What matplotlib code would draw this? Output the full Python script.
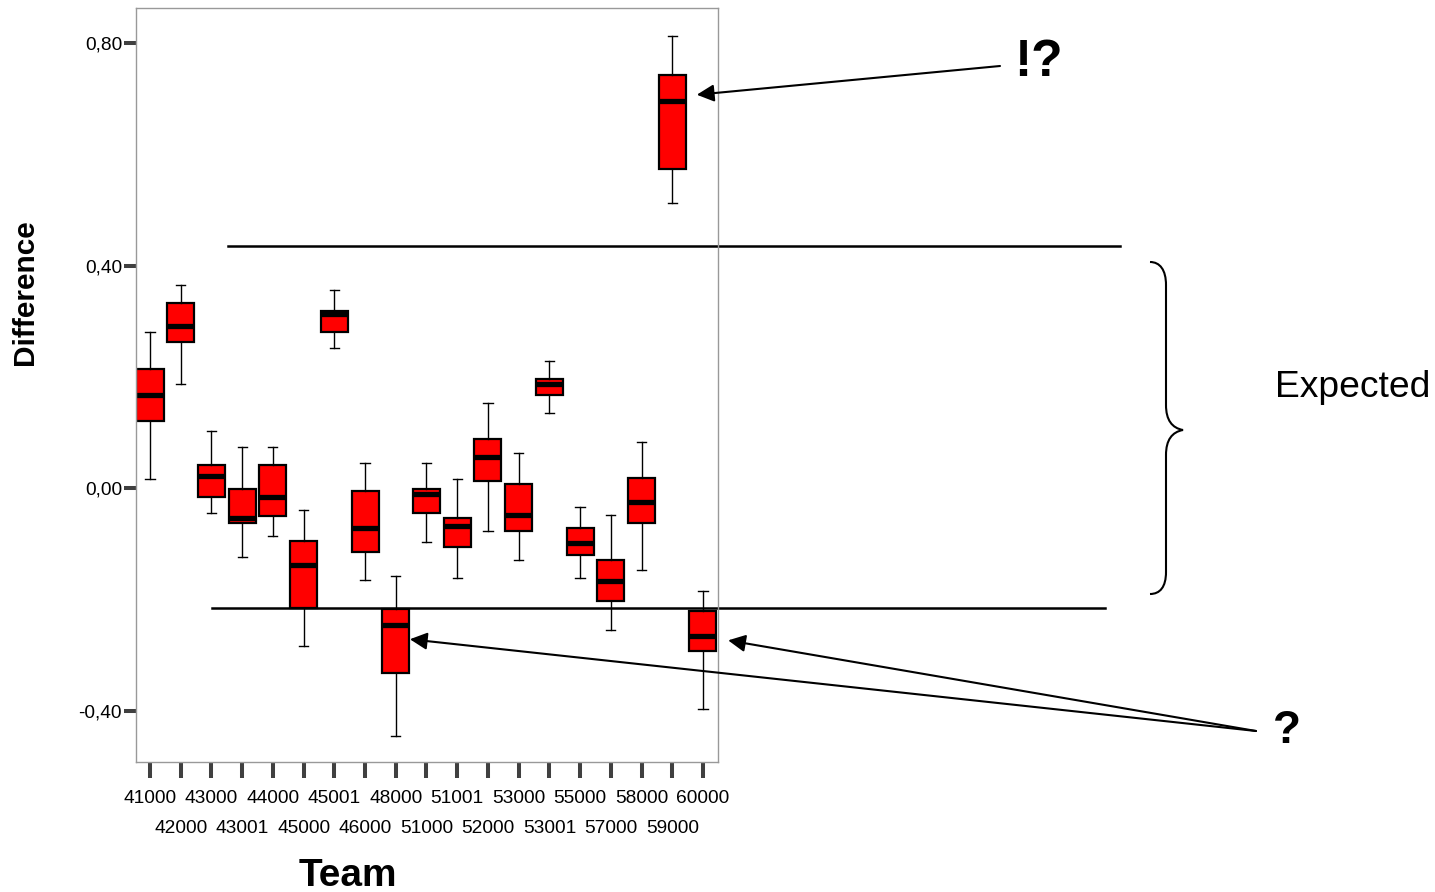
import matplotlib.pyplot as plt
from matplotlib.path import Path
from matplotlib.patches import PathPatch

# team codes on the x axis
teams = ["41000", "42000", "43000", "43001", "44000", "45000", "45001",
         "46000", "48000", "51000", "51001", "52000", "53000", "53001",
         "55000", "57000", "58000", "59000", "60000"]

# box plot statistics
whis_lo = [0.017, 0.187, -0.044, -0.123, -0.086, -0.283, 0.252, -0.165, -0.444, -0.096,
           -0.161, -0.077, -0.129, 0.135, -0.161, -0.255, -0.147, 0.512, -0.396]
q1 = [0.121, 0.263, -0.016, -0.063, -0.049, -0.215, 0.281, -0.115, -0.331, -0.044,
      -0.105, 0.013, -0.077, 0.168, -0.119, -0.203, -0.062, 0.573, -0.293]
median = [0.167, 0.291, 0.022, -0.054, -0.016, -0.138, 0.314, -0.071, -0.245, -0.011,
          -0.068, 0.056, -0.048, 0.187, -0.099, -0.166, -0.024, 0.695, -0.265]
q3 = [0.215, 0.333, 0.042, -0.001, 0.042, -0.095, 0.319, -0.005, -0.217, -0.001,
      -0.053, 0.088, 0.008, 0.197, -0.072, -0.129, 0.018, 0.743, -0.221]
whis_hi = [0.281, 0.365, 0.103, 0.074, 0.074, -0.039, 0.356, 0.046, -0.157, 0.045,
           0.017, 0.154, 0.064, 0.229, -0.034, -0.048, 0.084, 0.813, -0.185]

y_ticks = [-0.4, 0.0, 0.4, 0.8]
y_ticklabels = ["-0,40", "0,00", "0,40", "0,80"]

# limits of the "expected" band
upper_limit = 0.436
lower_limit = -0.215

W, H = 1435, 892


def fig_xy(x, y):
    # pixel position (y measured from the top) -> figure fraction
    return x / W, 1 - y / H


plt.rcParams["font.family"] = ["Liberation Sans", "DejaVu Sans"]

fig = plt.figure(figsize=(W / 100, H / 100), dpi=100)
ax = fig.add_axes([136 / W, 1 - 762 / H, 582 / W, 754 / H])

stats = []
for i in range(len(teams)):
    stats.append({"label": teams[i], "whislo": whis_lo[i], "q1": q1[i], "med": median[i],
                  "q3": q3[i], "whishi": whis_hi[i], "fliers": []})

ax.bxp(stats, positions=range(len(teams)), widths=0.88, patch_artist=True,
       showfliers=False, capwidths=0.3,
       boxprops=dict(facecolor="#ff0000", edgecolor="black", linewidth=1.6),
       medianprops=dict(color="black", linewidth=3.8, solid_capstyle="butt"),
       whiskerprops=dict(color="black", linewidth=1),
       capprops=dict(color="black", linewidth=1))

ax.set_xlim(-0.456, 18.49)
ax.set_ylim(-0.4915, 0.8628)

ax.set_yticks(y_ticks)
ax.set_yticklabels(y_ticklabels)
ax.set_xticks(range(len(teams)))
ax.set_xticklabels(teams)

ax.tick_params(axis="y", length=8.6, width=2.9, color="#404040", pad=1.4, labelsize=13.8)
ax.tick_params(axis="x", length=11.2, width=2.9, color="#404040", pad=9, labelsize=13.8)

# alternate labels on two rows
for i, tick in enumerate(ax.xaxis.get_major_ticks()):
    if i % 2 == 1:
        tick.set_pad(9 + 21.6)

for s in ax.spines.values():
    s.set_color("#999999")
    s.set_linewidth(1)

# band lines, running past the axes
ax.plot([2.54, 31.57], [upper_limit, upper_limit], color="black", lw=1.8, clip_on=False)
ax.plot([2.02, 31.09], [lower_limit, lower_limit], color="black", lw=1.8, clip_on=False)

# axis titles
fig.text(*fig_xy(25, 292), "Difference", rotation=90, fontsize=21.5, fontweight="bold",
         ha="center", va="center")
fig.text(*fig_xy(348, 876), "Team", fontsize=28, fontweight="bold", ha="center", va="center")

# annotations
arrow = dict(arrowstyle="-|>", color="black", lw=1.5, mutation_scale=26,
             shrinkA=0, shrinkB=0)
fig.text(*fig_xy(1038, 63), "!?", fontsize=37, fontweight="bold", ha="center", va="center")
ax.annotate("", xy=(17.8, 0.707), xytext=fig_xy(1000, 66), textcoords="figure fraction",
            arrowprops=arrow, annotation_clip=False)

fig.text(*fig_xy(1287, 731), "?", fontsize=33, fontweight="bold", ha="center", va="center")
ax.annotate("", xy=(8.46, -0.271), xytext=fig_xy(1256, 731), textcoords="figure fraction",
            arrowprops=arrow, annotation_clip=False)
ax.annotate("", xy=(18.82, -0.273), xytext=fig_xy(1256, 731), textcoords="figure fraction",
            arrowprops=arrow, annotation_clip=False)

fig.text(*fig_xy(1353, 388), "Expected", fontsize=26.8, ha="center", va="center")

# curly brace
brace_px = [(1150, 262), (1160, 262), (1166, 270), (1166, 285),
            (1166, 405),
            (1166, 420), (1172, 428), (1183, 430),
            (1172, 432), (1166, 440), (1166, 455),
            (1166, 572),
            (1166, 587), (1160, 594), (1150, 594)]
codes = [Path.MOVETO, Path.CURVE4, Path.CURVE4, Path.CURVE4,
         Path.LINETO,
         Path.CURVE4, Path.CURVE4, Path.CURVE4,
         Path.CURVE4, Path.CURVE4, Path.CURVE4,
         Path.LINETO,
         Path.CURVE4, Path.CURVE4, Path.CURVE4]
brace = Path([fig_xy(x, y) for x, y in brace_px], codes)
fig.add_artist(PathPatch(brace, transform=fig.transFigure, fill=False, lw=1.5,
                         edgecolor="black"))

fig.savefig("out.png", dpi=100)
